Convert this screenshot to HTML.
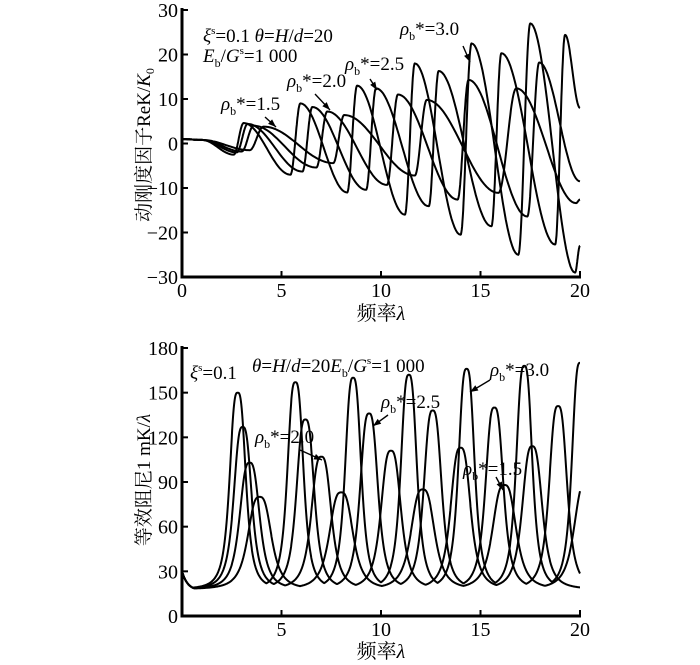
<!DOCTYPE html>
<html><head><meta charset="utf-8"><style>
html,body{margin:0;padding:0;background:#fff;width:700px;height:665px;overflow:hidden}
svg{display:block}
text{font-family:"Liberation Serif","Noto Serif CJK SC",serif;fill:#000}
.t{font-size:20px}
.a{font-size:19px}
.yt{font-size:19px}
</style></head><body>
<svg id="c" width="700" height="665" viewBox="0 0 700 665">
<g id="top"></g>
<g id="bot"></g>
</svg>
<script>
// ---- top chart data: extrema (lambda, ReK/K0) per series ----
const topX3=[0,1.0,2.6,3.1,5.45,5.95,8.3,8.8,11.2,11.7,14.0,14.55,16.9,17.5,19.75,20];
const topY3=[1,0.8,-2.5,4.6,-7,9,-11,13,-16,18,-20.5,22.5,-25,27,-29,-23];
const topX25=[0,1.0,2.75,3.3,6.05,6.55,9.25,9.75,12.4,12.9,15.55,16.05,18.75,19.25,20];
const topY25=[1,0.8,-2,4.4,-6.3,8.2,-10.4,12.4,-14.1,16.3,-18.6,20.3,-22.7,24.4,8];
const topX20=[0,1.0,3.0,3.6,6.75,7.3,10.3,10.85,13.85,14.4,17.35,17.95,20];
const topY20=[1,0.8,-1.8,4,-5.4,7.2,-9.3,11,-12.6,14.3,-16.4,18.2,-8.5];
const topX15=[0,1.0,3.4,4.1,7.6,8.15,11.7,12.3,15.9,16.8,19.8,20];
const topY15=[1,0.8,-1.5,3.8,-4.4,6.4,-7.2,9.8,-11.1,12.4,-13.4,-12.6];
const topXTicks=[0,5,10,15,20];
const topYTicks=[-30,-20,-10,0,10,20,30];
// ---- bottom chart data: resonance peaks (lambda, damping) per series ----
const botP3=[2.8,5.7,8.6,11.4,14.3,17.2,20.0];
const botH3=[150,157,160,162,166,168,170];
const botP25=[3.05,6.2,9.4,12.6,15.7,18.9];
const botH25=[127,132,136,138,140,141];
const botP20=[3.4,7.0,10.5,14.0,17.6];
const botH20=[103,107,111,113,114];
const botP15=[3.9,8.0,12.1,16.2,20.3];
const botH15=[80,83,85,88,90];
const botBase=18;
const botXTicks=[5,10,15,20];
const botYTicks=[0,30,60,90,120,150,180];

const NS="http://www.w3.org/2000/svg";
function mk(tag,attrs,parent){const e=document.createElementNS(NS,tag);for(const k in attrs)e.setAttribute(k,attrs[k]);parent.appendChild(e);return e;}
const X0=182,X1=580;
const xs=l=>X0+(X1-X0)*l/20;
const tyS=v=>10+(30-v)/60*267;
const byS=v=>348+(180-v)/180*268;

function axes(g,yS,yTicks,xTicks,yTop,yBot,ytTitle,ytY,xtY){
  const a=mk('path',{d:`M${X0} ${yTop-2}V${yBot}H${X1+1}`,fill:'none',stroke:'#000','stroke-width':3},g);
  
  
  yTicks.forEach(v=>{
    const t=mk('line',{x1:X0,x2:X0+6,y1:yS(v),y2:yS(v),stroke:'#000','stroke-width':2},g);
    
    
    const l=mk('text',{x:X0-4,y:yS(v)+7,'text-anchor':'end',class:'t'},g);
    l.textContent=v<0?'\u2212'+(-v):v;
    
    
  });
  xTicks.forEach(v=>{
    const t=mk('line',{x1:xs(v),x2:xs(v),y1:yBot,y2:yBot-6,stroke:'#000','stroke-width':2},g);
    
    
    const l=mk('text',{x:xs(v),y:yBot+20,'text-anchor':'middle',class:'t'},g);
    l.textContent=v;
    
    
  });
  const xtl=mk('text',{x:381,y:xtY,'text-anchor':'middle',class:'t'},g);
  xtl.innerHTML='频率<tspan font-style="italic">λ</tspan>';
  
  
  const ytl=mk('text',{x:0,y:0,'text-anchor':'middle',class:'yt',transform:`translate(150,${ytY}) rotate(-90)`},g);
  ytl.innerHTML=ytTitle;
  
  
}

// top chart
const gT=document.getElementById('top');
axes(gT,tyS,topYTicks,[5,10,15,20],10,277,'动刚度因子ReK/<tspan font-style="italic">K</tspan><tspan font-size="12" dy="4">0</tspan>',145,320);
const z=mk('text',{x:X0,y:297,'text-anchor':'middle',class:'t'},gT);z.textContent='0';


function extremaPath(xa,ya){
  let d='';
  for(let i=0;i<xa.length-1;i++){
    const n=30;
    for(let k=0;k<=n;k++){
      if(i>0&&k===0)continue;
      const s=k/n, f=(1-Math.cos(Math.PI*s))/2;
      const l=xa[i]+(xa[i+1]-xa[i])*s, v=ya[i]+(ya[i+1]-ya[i])*f;
      d+=(d?'L':'M')+xs(l).toFixed(1)+' '+tyS(v).toFixed(1);
    }
  }
  return d;
}
[[topX3,topY3,'series-rho-3-0'],[topX25,topY25,'series-rho-2-5'],[topX20,topY20,'series-rho-2-0'],[topX15,topY15,'series-rho-1-5']].forEach(s=>{
  const p=mk('path',{d:extremaPath(s[0],s[1]),fill:'none',stroke:'#000','stroke-width':2,'stroke-linejoin':'round'},gT);
  
  
});

// bottom chart
const gB=document.getElementById('bot');
axes(gB,byS,botYTicks,botXTicks,348,616,'等效阻尼1 mK/<tspan font-style="italic">λ</tspan>',480,658);
function peakPath(pa,ha,w){
  let d='';
  for(let l=0;l<=20.0001;l+=0.02){
    let v=botBase-2+14*Math.exp(-l/0.3)+2*Math.min(1,l/1.5);
    pa.forEach((p,i)=>{const dd=Math.abs(l-p)/w;const c=botBase+(ha[i]-botBase)/(1+dd*dd*dd);if(c>v)v=c;});
    d+=(d?'L':'M')+xs(l).toFixed(1)+' '+byS(v).toFixed(1);
  }
  return d;
}
[[botP3,botH3,0.45,'series-rho-3-0'],[botP25,botH25,0.5,'series-rho-2-5'],[botP20,botH20,0.56,'series-rho-2-0'],[botP15,botH15,0.66,'series-rho-1-5']].forEach(s=>{
  const p=mk('path',{d:peakPath(s[0],s[1],s[2]),fill:'none',stroke:'#000','stroke-width':2,'stroke-linejoin':'round'},gB);
  
  
});

// annotations
function lab(g,x,y,html,name){const t=mk('text',{x:x,y:y,class:'a'},g);t.innerHTML=html;}
function arrow(g,x1,y1,x2,y2,name){
  const a=mk('line',{x1:x1,y1:y1,x2:x2,y2:y2,stroke:'#000','stroke-width':1.4},g);
  
  
  const ang=Math.atan2(y2-y1,x2-x1),L=8,W=3;
  const bx=x2-L*Math.cos(ang),by=y2-L*Math.sin(ang);
  const h=mk('polygon',{points:`${x2},${y2} ${bx-W*Math.sin(ang)},${by+W*Math.cos(ang)} ${bx+W*Math.sin(ang)},${by-W*Math.cos(ang)}`,fill:'#000'},g);
  
  
}
const rho=v=>`<tspan font-style="italic">ρ</tspan><tspan font-size="12" dy="5">b</tspan><tspan dy="-5">*=${v}</tspan>`;
lab(gT,203,42,'<tspan font-style="italic">ξ</tspan><tspan font-size="11" dy="-8">s</tspan><tspan dy="8">=0.1  </tspan><tspan font-style="italic">θ</tspan>=<tspan font-style="italic">H</tspan>/<tspan font-style="italic">d</tspan>=20','params-label');
lab(gT,203,62,'<tspan font-style="italic">E</tspan><tspan font-size="12" dy="5">b</tspan><tspan dy="-5">/</tspan><tspan font-style="italic">G</tspan><tspan font-size="11" dy="-8">s</tspan><tspan dy="8">=1 000</tspan>','ratio-label');
lab(gT,400,35,rho('3.0'),'label-rho-3-0');arrow(gT,463,46,470,62,'arrow-rho-3-0');
lab(gT,345,70,rho('2.5'),'label-rho-2-5');arrow(gT,370,79,377,90,'arrow-rho-2-5');
lab(gT,287,87,rho('2.0'),'label-rho-2-0');arrow(gT,315,94,330,110,'arrow-rho-2-0');
lab(gT,221,110,rho('1.5'),'label-rho-1-5');arrow(gT,265,117,276,127,'arrow-rho-1-5');
lab(gB,190,379,'<tspan font-style="italic">ξ</tspan><tspan font-size="11" dy="-8">s</tspan><tspan dy="8">=0.1</tspan>','damping-xi-label');
lab(gB,252,372,'<tspan font-style="italic">θ</tspan>=<tspan font-style="italic">H</tspan>/<tspan font-style="italic">d</tspan>=20<tspan font-style="italic">E</tspan><tspan font-size="12" dy="5">b</tspan><tspan dy="-5">/</tspan><tspan font-style="italic">G</tspan><tspan font-size="11" dy="-8">s</tspan><tspan dy="8">=1 000</tspan>','damping-params-label');
lab(gB,490,376,rho('3.0'),'damping-label-rho-3-0');arrow(gB,490,380,470,392,'damping-arrow-rho-3-0');
lab(gB,381,408,rho('2.5'),'damping-label-rho-2-5');arrow(gB,388,415,373,426,'damping-arrow-rho-2-5');
lab(gB,255,443,rho('2.0'),'damping-label-rho-2-0');arrow(gB,300,450,322,460,'damping-arrow-rho-2-0');
lab(gB,463,475,rho('1.5'),'damping-label-rho-1-5');arrow(gB,496,477,503,490,'damping-arrow-rho-1-5');
</script>
</body></html>
